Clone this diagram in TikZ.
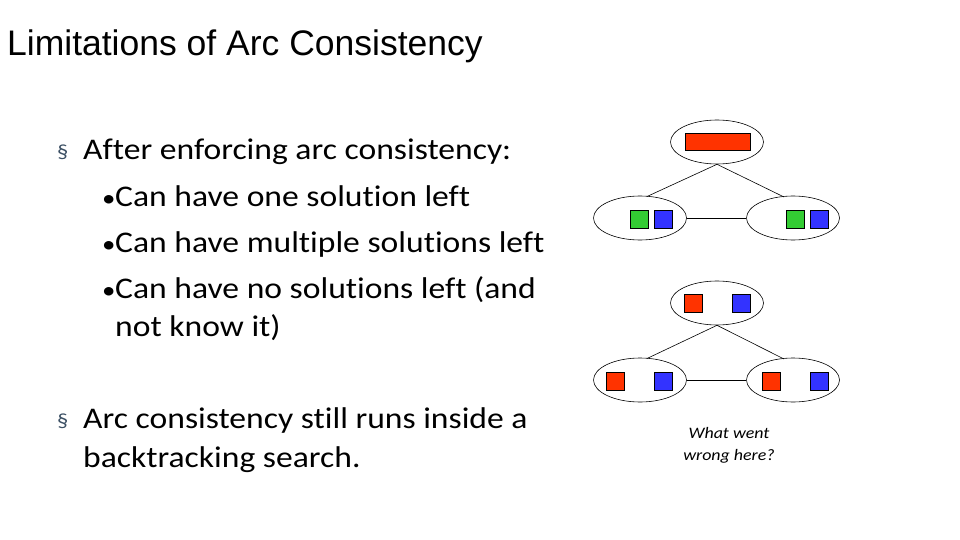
\documentclass[tikz,border=0pt]{standalone}
\usepackage{fontspec}
\usetikzlibrary{shapes.geometric}
\setmainfont[FakeStretch=1.12,RawFeature={-liga;-clig;-dlig}]{Carlito}
\newfontfamily\arialf{Liberation Sans}
\begin{document}
\begin{tikzpicture}[x=1pt,y=-1pt,
  txt/.style={anchor=base west,inner sep=0pt,font=\fontsize{30}{33}\selectfont},
  ell/.style={draw,ellipse,minimum width=93pt,minimum height=44pt,inner sep=0pt,line width=0.6pt},
  sq/.style={draw,line width=0.6pt,minimum size=18pt,inner sep=0pt},
  edge/.style={line width=0.6pt}]
\useasboundingbox (0,0) rectangle (960,540);
\definecolor{rr}{RGB}{255,51,0}
\definecolor{gg}{RGB}{51,204,51}
\definecolor{bb}{RGB}{51,51,255}
\definecolor{bul}{RGB}{60,80,100}
\node[txt,font=\arialf\fontsize{35.5}{38}\selectfont] (title) at (7,56) {Limitations of Arc Consistency};
\node[txt,font=\fontsize{20}{22}\selectfont,text=bul] (b1) at (57,159) {§};
\node[txt] (l1) at (83,160) {After enforcing arc consistency:};
\node[txt,font=\fontsize{24}{26}\selectfont] (d1) at (102,206) {•};
\node[txt] (l2) at (115,206) {Can have one solution left};
\node[txt,font=\fontsize{24}{26}\selectfont] (d2) at (102,252) {•};
\node[txt] (l3) at (115,252) {Can have multiple solutions left};
\node[txt,font=\fontsize{24}{26}\selectfont] (d3) at (102,298) {•};
\node[txt] (l4) at (115,298) {Can have no solutions left (and};
\node[txt] (l5) at (115,336) {not know it)};
\node[txt,font=\fontsize{20}{22}\selectfont,text=bul] (b2) at (57,427) {§};
\node[txt] (l6) at (83,428) {Arc consistency still runs inside a};
\node[txt] (l7) at (83,467) {backtracking search.};
\node[font=\itshape\fontsize{16}{22}\selectfont,align=center,inner sep=0pt] (q) at (729,445) {What went\\wrong here?};
% top graph
\node[ell] (ta) at (717,142) {};
\node[ell] (tb) at (640,218) {};
\node[ell] (tc) at (793,218) {};
\draw[edge] (ta.south) -- (647,196.5);
\draw[edge] (ta.south) -- (784,197);
\draw[edge] (tb) -- (tc);
\node[draw,fill=rr,line width=0.6pt,minimum width=65pt,minimum height=17pt,inner sep=0pt] (tar) at (717.5,141.5) {};
\node[sq,fill=gg] (tbg) at (639,219) {};
\node[sq,fill=bb] (tbb) at (663,219) {};
\node[sq,fill=gg] (tcg) at (795,219) {};
\node[sq,fill=bb] (tcb) at (819,219) {};
% bottom graph
\node[ell] (ba) at (717,303) {};
\node[ell] (bb) at (640,380) {};
\node[ell] (bc) at (793,380) {};
\draw[edge] (ba.south) -- (647,358.5);
\draw[edge] (ba.south) -- (784,359);
\draw[edge] (bb) -- (bc);
\node[sq,fill=rr] (bar) at (693,303) {};
\node[sq,fill=bb] (bab) at (741,303) {};
\node[sq,fill=rr] (bbr) at (615,381) {};
\node[sq,fill=bb] (bbb) at (663,381) {};
\node[sq,fill=rr] (bcr) at (771,381) {};
\node[sq,fill=bb] (bcb) at (819,381) {};
\end{tikzpicture}
\end{document}
